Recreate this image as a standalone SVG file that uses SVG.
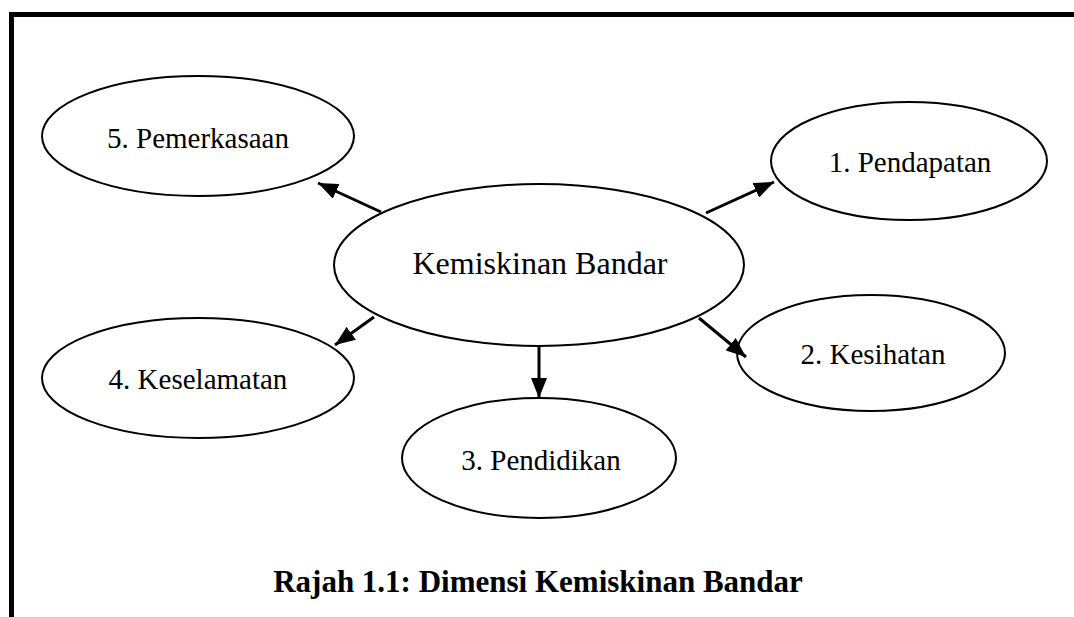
<svg xmlns="http://www.w3.org/2000/svg" width="1074" height="617" viewBox="0 0 1074 617">
<style>
.node ellipse{fill:#fff;stroke:#000;stroke-width:2}
.node text{font-family:"Liberation Serif","Times New Roman",serif;font-size:29px;text-anchor:middle;fill:#000}
.conn line{stroke:#000;stroke-width:3}
.title{font-family:"Liberation Serif","Times New Roman",serif;font-size:31px;font-weight:bold;text-anchor:middle;fill:#000}
</style>
<defs>
<marker id="ah" viewBox="0 0 20 16" refX="20" refY="8" markerWidth="20" markerHeight="16" markerUnits="userSpaceOnUse" orient="auto">
<path d="M0,0 L20,8 L0,16 z" fill="#000"/>
</marker>
</defs>
<rect width="1074" height="617" fill="#fff"/>
<g id="frame">
<path d="M11.5,617 V14.5 H1074" fill="none" stroke="#000" stroke-width="5"/>
</g>
<g id="n0" class="node"><ellipse cx="539" cy="265" rx="205" ry="81"/><text x="540" y="274" font-family="Liberation Serif, serif" style="font-size:32px">Kemiskinan Bandar</text></g>
<g id="n5" class="node"><ellipse cx="198" cy="136" rx="156" ry="60"/><text x="198" y="148" font-family="Liberation Serif, serif">5. Pemerkasaan</text></g>
<g id="n1" class="node"><ellipse cx="909" cy="161" rx="138" ry="59"/><text x="910" y="172" font-family="Liberation Serif, serif">1. Pendapatan</text></g>
<g id="n4" class="node"><ellipse cx="198" cy="378" rx="156" ry="60"/><text x="198" y="389" font-family="Liberation Serif, serif">4. Keselamatan</text></g>
<g id="n2" class="node"><ellipse cx="871" cy="353" rx="134" ry="58"/><text x="873" y="364" font-family="Liberation Serif, serif">2. Kesihatan</text></g>
<g id="n3" class="node"><ellipse cx="539" cy="458" rx="137" ry="60"/><text x="541" y="470" font-family="Liberation Serif, serif">3. Pendidikan</text></g>
<g id="connectors" class="conn">
<line x1="381" y1="212" x2="318" y2="183" marker-end="url(#ah)"/>
<line x1="706" y1="213" x2="774" y2="182" marker-end="url(#ah)"/>
<line x1="374" y1="317" x2="335" y2="345" marker-end="url(#ah)"/>
<line x1="539" y1="345" x2="539" y2="398" marker-end="url(#ah)"/>
<line x1="699" y1="318" x2="746" y2="357" marker-end="url(#ah)"/>
</g>
<text class="title" x="538" y="592">Rajah 1.1: Dimensi Kemiskinan Bandar</text>
</svg>
